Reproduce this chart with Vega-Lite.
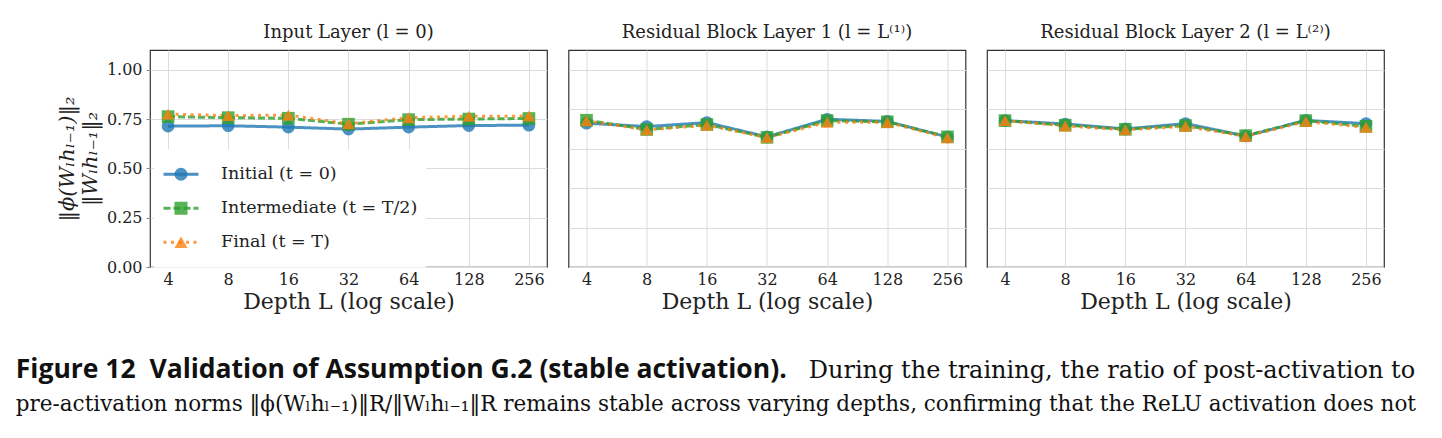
{
  "$schema": "https://vega.github.io/schema/vega-lite/v6.json",
  "padding": {"left": 15, "top": 23, "right": 0, "bottom": 0},
  "background": "white",
  "config": {
    "view": {"stroke": "#333333", "strokeWidth": 1.2},
    "font": "DejaVu Serif",
    "axis": {"gridColor": "#dcdcdc", "gridWidth": 1, "labelColor": "#222222", "titleColor": "#222222", "domain": false}
  },
  "data": {"values": [
    {"panel": "input", "series": "Initial (t = 0)", "order": 1, "depth": 4, "value": 0.714},
    {"panel": "input", "series": "Initial (t = 0)", "order": 1, "depth": 8, "value": 0.716},
    {"panel": "input", "series": "Initial (t = 0)", "order": 1, "depth": 16, "value": 0.709},
    {"panel": "input", "series": "Initial (t = 0)", "order": 1, "depth": 32, "value": 0.699},
    {"panel": "input", "series": "Initial (t = 0)", "order": 1, "depth": 64, "value": 0.709},
    {"panel": "input", "series": "Initial (t = 0)", "order": 1, "depth": 128, "value": 0.717},
    {"panel": "input", "series": "Initial (t = 0)", "order": 1, "depth": 256, "value": 0.719},
    {"panel": "input", "series": "Intermediate (t = T/2)", "order": 2, "depth": 4, "value": 0.762},
    {"panel": "input", "series": "Intermediate (t = T/2)", "order": 2, "depth": 8, "value": 0.757},
    {"panel": "input", "series": "Intermediate (t = T/2)", "order": 2, "depth": 16, "value": 0.754},
    {"panel": "input", "series": "Intermediate (t = T/2)", "order": 2, "depth": 32, "value": 0.724},
    {"panel": "input", "series": "Intermediate (t = T/2)", "order": 2, "depth": 64, "value": 0.747},
    {"panel": "input", "series": "Intermediate (t = T/2)", "order": 2, "depth": 128, "value": 0.750},
    {"panel": "input", "series": "Intermediate (t = T/2)", "order": 2, "depth": 256, "value": 0.753},
    {"panel": "input", "series": "Final (t = T)", "order": 3, "depth": 4, "value": 0.775},
    {"panel": "input", "series": "Final (t = T)", "order": 3, "depth": 8, "value": 0.768},
    {"panel": "input", "series": "Final (t = T)", "order": 3, "depth": 16, "value": 0.770},
    {"panel": "input", "series": "Final (t = T)", "order": 3, "depth": 32, "value": 0.726},
    {"panel": "input", "series": "Final (t = T)", "order": 3, "depth": 64, "value": 0.757},
    {"panel": "input", "series": "Final (t = T)", "order": 3, "depth": 128, "value": 0.764},
    {"panel": "input", "series": "Final (t = T)", "order": 3, "depth": 256, "value": 0.765},
    {"panel": "res1", "series": "Initial (t = 0)", "order": 1, "depth": 4, "value": 0.729},
    {"panel": "res1", "series": "Initial (t = 0)", "order": 1, "depth": 8, "value": 0.712},
    {"panel": "res1", "series": "Initial (t = 0)", "order": 1, "depth": 16, "value": 0.732},
    {"panel": "res1", "series": "Initial (t = 0)", "order": 1, "depth": 32, "value": 0.660},
    {"panel": "res1", "series": "Initial (t = 0)", "order": 1, "depth": 64, "value": 0.749},
    {"panel": "res1", "series": "Initial (t = 0)", "order": 1, "depth": 128, "value": 0.738},
    {"panel": "res1", "series": "Initial (t = 0)", "order": 1, "depth": 256, "value": 0.659},
    {"panel": "res1", "series": "Intermediate (t = T/2)", "order": 2, "depth": 4, "value": 0.744},
    {"panel": "res1", "series": "Intermediate (t = T/2)", "order": 2, "depth": 8, "value": 0.697},
    {"panel": "res1", "series": "Intermediate (t = T/2)", "order": 2, "depth": 16, "value": 0.722},
    {"panel": "res1", "series": "Intermediate (t = T/2)", "order": 2, "depth": 32, "value": 0.657},
    {"panel": "res1", "series": "Intermediate (t = T/2)", "order": 2, "depth": 64, "value": 0.742},
    {"panel": "res1", "series": "Intermediate (t = T/2)", "order": 2, "depth": 128, "value": 0.736},
    {"panel": "res1", "series": "Intermediate (t = T/2)", "order": 2, "depth": 256, "value": 0.660},
    {"panel": "res1", "series": "Final (t = T)", "order": 3, "depth": 4, "value": 0.741},
    {"panel": "res1", "series": "Final (t = T)", "order": 3, "depth": 8, "value": 0.695},
    {"panel": "res1", "series": "Final (t = T)", "order": 3, "depth": 16, "value": 0.719},
    {"panel": "res1", "series": "Final (t = T)", "order": 3, "depth": 32, "value": 0.656},
    {"panel": "res1", "series": "Final (t = T)", "order": 3, "depth": 64, "value": 0.734},
    {"panel": "res1", "series": "Final (t = T)", "order": 3, "depth": 128, "value": 0.733},
    {"panel": "res1", "series": "Final (t = T)", "order": 3, "depth": 256, "value": 0.655},
    {"panel": "res2", "series": "Initial (t = 0)", "order": 1, "depth": 4, "value": 0.742},
    {"panel": "res2", "series": "Initial (t = 0)", "order": 1, "depth": 8, "value": 0.725},
    {"panel": "res2", "series": "Initial (t = 0)", "order": 1, "depth": 16, "value": 0.700},
    {"panel": "res2", "series": "Initial (t = 0)", "order": 1, "depth": 32, "value": 0.727},
    {"panel": "res2", "series": "Initial (t = 0)", "order": 1, "depth": 64, "value": 0.664},
    {"panel": "res2", "series": "Initial (t = 0)", "order": 1, "depth": 128, "value": 0.743},
    {"panel": "res2", "series": "Initial (t = 0)", "order": 1, "depth": 256, "value": 0.727},
    {"panel": "res2", "series": "Intermediate (t = T/2)", "order": 2, "depth": 4, "value": 0.742},
    {"panel": "res2", "series": "Intermediate (t = T/2)", "order": 2, "depth": 8, "value": 0.719},
    {"panel": "res2", "series": "Intermediate (t = T/2)", "order": 2, "depth": 16, "value": 0.698},
    {"panel": "res2", "series": "Intermediate (t = T/2)", "order": 2, "depth": 32, "value": 0.717},
    {"panel": "res2", "series": "Intermediate (t = T/2)", "order": 2, "depth": 64, "value": 0.666},
    {"panel": "res2", "series": "Intermediate (t = T/2)", "order": 2, "depth": 128, "value": 0.742},
    {"panel": "res2", "series": "Intermediate (t = T/2)", "order": 2, "depth": 256, "value": 0.713},
    {"panel": "res2", "series": "Final (t = T)", "order": 3, "depth": 4, "value": 0.742},
    {"panel": "res2", "series": "Final (t = T)", "order": 3, "depth": 8, "value": 0.715},
    {"panel": "res2", "series": "Final (t = T)", "order": 3, "depth": 16, "value": 0.695},
    {"panel": "res2", "series": "Final (t = T)", "order": 3, "depth": 32, "value": 0.713},
    {"panel": "res2", "series": "Final (t = T)", "order": 3, "depth": 64, "value": 0.662},
    {"panel": "res2", "series": "Final (t = T)", "order": 3, "depth": 128, "value": 0.737},
    {"panel": "res2", "series": "Final (t = T)", "order": 3, "depth": 256, "value": 0.708}
  ]},
  "title": {
    "text": "pre-activation norms ‖ϕ(Wₗhₗ₋₁)‖R/‖Wₗhₗ₋₁‖R remains stable across varying depths, confirming that the ReLU activation does not",
    "orient": "bottom", "anchor": "start", "frame": "bounds",
    "font": "DejaVu Serif", "fontSize": 21.5, "fontWeight": "normal", "color": "#111111", "offset": 11
  },
  "vconcat": [{
    "title": {
      "text": "During the training, the ratio of post-activation to",
      "orient": "bottom", "anchor": "start", "frame": "bounds",
      "font": "DejaVu Serif", "fontSize": 24, "fontWeight": "normal", "color": "#111111",
      "offset": 0, "dx": 793, "dy": -24
    },
    "vconcat": [{
      "title": {
        "text": "Figure 12\u00a0\u00a0Validation of Assumption G.2 (stable activation).",
        "orient": "bottom", "anchor": "start", "frame": "bounds",
        "font": "Open Sans", "fontSize": 26.5, "fontWeight": "bold", "color": "#111111",
        "offset": 44, "dx": -40
      },
      "spacing": 19.5,
      "resolve": {
        "scale": {"color": "independent", "strokeDash": "independent", "fill": "independent", "shape": "independent"},
        "legend": {"color": "independent", "strokeDash": "independent", "fill": "independent", "shape": "independent"}
      },
      "hconcat": [
        {
          "width": 397, "height": 217,
          "title": {"text": "Input Layer (l = 0)", "fontSize": 18, "fontWeight": "normal", "offset": 8, "color": "#222222"},
          "transform": [{"filter": "datum.panel === 'input'"}],
          "encoding": {
            "x": {"field": "depth", "type": "quantitative",
              "scale": {"type": "log", "base": 2, "domain": [3.249, 315.2], "nice": false},
              "axis": {"values": [4, 8, 16, 32, 64, 128, 256], "format": "d", "title": "Depth L (log scale)", "labelFontSize": 16, "titleFontSize": 22, "titleFontWeight": "normal", "ticks": false, "labelPadding": 4, "titlePadding": 4, "labelFlush": false}},
            "y": {"field": "value", "type": "quantitative",
              "scale": {"domain": [0, 1.1], "nice": false, "zero": false},
              "axis": {"values": [0, 0.25, 0.5, 0.75, 1], "format": ".2f", "title": ["‖ϕ(Wₗhₗ₋₁)‖₂", "‖Wₗhₗ₋₁‖₂"], "titleFontSize": 21, "titleLineHeight": 23, "titleFontWeight": "normal", "titleFontStyle": "italic", "labelFontSize": 16, "tickSize": 4, "tickColor": "#888888", "labelPadding": 4, "titlePadding": 6}}
          },
          "layer": [
            {
              "mark": {"type": "line", "strokeWidth": 3, "opacity": 0.8, "strokeCap": "butt"},
              "encoding": {
                "color": {"field": "series", "type": "nominal",
                  "scale": {"domain": ["Initial (t = 0)", "Intermediate (t = T/2)", "Final (t = T)"], "range": ["#1f77b4", "#2ca02c", "#ff7f0e"]},
                  "legend": {"orient": "none", "legendX": 4, "legendY": 99.5, "title": null, "symbolType": "stroke", "symbolSize": 1225, "symbolStrokeWidth": 3, "symbolOpacity": 0.8, "labelFontSize": 17.5, "labelFont": "DejaVu Serif", "labelColor": "#222222", "labelOffset": 21, "labelLimit": 400, "clipHeight": 33.5, "rowPadding": 0, "padding": 8, "fillColor": "white"}},
                "strokeDash": {"field": "series", "type": "nominal",
                  "scale": {"domain": ["Initial (t = 0)", "Intermediate (t = T/2)", "Final (t = T)"], "range": [[1, 0], [7, 3], [3, 4.5]]},
                  "legend": {"orient": "none", "legendX": 4, "legendY": 99.5, "title": null, "symbolType": "stroke", "symbolSize": 1225, "symbolStrokeWidth": 3, "symbolOpacity": 0.8, "labelFontSize": 17.5, "labelFont": "DejaVu Serif", "labelColor": "#222222", "labelOffset": 21, "labelLimit": 400, "clipHeight": 33.5, "rowPadding": 0, "padding": 8, "fillColor": "white"}}
              }
            },
            {
              "mark": {"type": "point", "filled": true, "opacity": 0.8, "size": 160, "strokeWidth": 0},
              "encoding": {
                "fill": {"field": "series", "type": "nominal", "sort": {"field": "order", "op": "min"},
                  "scale": {"range": ["#1f77b4", "#2ca02c", "#ff7f0e"]},
                  "legend": {"orient": "none", "legendX": 15, "legendY": 99.5, "title": null, "symbolSize": 169, "symbolStrokeWidth": 0, "symbolOpacity": 0.8, "labelExpr": "''", "labelFontSize": 16, "clipHeight": 33.5, "rowPadding": 0, "padding": 8}},
                "shape": {"field": "series", "type": "nominal", "sort": {"field": "order", "op": "min"},
                  "scale": {"range": ["circle", "square", "triangle-up"]},
                  "legend": {"orient": "none", "legendX": 15, "legendY": 99.5, "title": null, "symbolSize": 169, "symbolStrokeWidth": 0, "symbolOpacity": 0.8, "labelExpr": "''", "labelFontSize": 16, "clipHeight": 33.5, "rowPadding": 0, "padding": 8}}
              }
            }
          ]
        },
        {
          "width": 397, "height": 217,
          "title": {"text": "Residual Block Layer 1 (l = L⁽¹⁾)", "fontSize": 18, "fontWeight": "normal", "offset": 8, "color": "#222222"},
          "transform": [{"filter": "datum.panel === 'res1'"}],
          "encoding": {
            "x": {"field": "depth", "type": "quantitative",
              "scale": {"type": "log", "base": 2, "domain": [3.249, 315.2], "nice": false},
              "axis": {"values": [4, 8, 16, 32, 64, 128, 256], "format": "d", "title": "Depth L (log scale)", "labelFontSize": 16, "titleFontSize": 22, "titleFontWeight": "normal", "ticks": false, "labelPadding": 4, "titlePadding": 4, "labelFlush": false}},
            "y": {"field": "value", "type": "quantitative",
              "scale": {"domain": [0, 1.1], "nice": false, "zero": false},
              "axis": {"values": [0, 0.2, 0.4, 0.6, 0.8, 1.0], "labels": false, "ticks": false, "title": null}}
          },
          "layer": [
            {
              "mark": {"type": "line", "strokeWidth": 3, "opacity": 0.8, "strokeCap": "butt"},
              "encoding": {
                "color": {"field": "series", "type": "nominal",
                  "scale": {"domain": ["Initial (t = 0)", "Intermediate (t = T/2)", "Final (t = T)"], "range": ["#1f77b4", "#2ca02c", "#ff7f0e"]}, "legend": null},
                "strokeDash": {"field": "series", "type": "nominal",
                  "scale": {"domain": ["Initial (t = 0)", "Intermediate (t = T/2)", "Final (t = T)"], "range": [[1, 0], [7, 3], [3, 4.5]]}, "legend": null}
              }
            },
            {
              "mark": {"type": "point", "filled": true, "opacity": 0.8, "size": 160, "strokeWidth": 0},
              "encoding": {
                "fill": {"field": "series", "type": "nominal", "sort": {"field": "order", "op": "min"}, "scale": {"range": ["#1f77b4", "#2ca02c", "#ff7f0e"]}, "legend": null},
                "shape": {"field": "series", "type": "nominal", "sort": {"field": "order", "op": "min"}, "scale": {"range": ["circle", "square", "triangle-up"]}, "legend": null}
              }
            }
          ]
        },
        {
          "width": 397, "height": 217,
          "title": {"text": "Residual Block Layer 2 (l = L⁽²⁾)", "fontSize": 18, "fontWeight": "normal", "offset": 8, "color": "#222222"},
          "transform": [{"filter": "datum.panel === 'res2'"}],
          "encoding": {
            "x": {"field": "depth", "type": "quantitative",
              "scale": {"type": "log", "base": 2, "domain": [3.249, 315.2], "nice": false},
              "axis": {"values": [4, 8, 16, 32, 64, 128, 256], "format": "d", "title": "Depth L (log scale)", "labelFontSize": 16, "titleFontSize": 22, "titleFontWeight": "normal", "ticks": false, "labelPadding": 4, "titlePadding": 4, "labelFlush": false}},
            "y": {"field": "value", "type": "quantitative",
              "scale": {"domain": [0, 1.1], "nice": false, "zero": false},
              "axis": {"values": [0, 0.2, 0.4, 0.6, 0.8, 1.0], "labels": false, "ticks": false, "title": null}}
          },
          "layer": [
            {
              "mark": {"type": "line", "strokeWidth": 3, "opacity": 0.8, "strokeCap": "butt"},
              "encoding": {
                "color": {"field": "series", "type": "nominal",
                  "scale": {"domain": ["Initial (t = 0)", "Intermediate (t = T/2)", "Final (t = T)"], "range": ["#1f77b4", "#2ca02c", "#ff7f0e"]}, "legend": null},
                "strokeDash": {"field": "series", "type": "nominal",
                  "scale": {"domain": ["Initial (t = 0)", "Intermediate (t = T/2)", "Final (t = T)"], "range": [[1, 0], [7, 3], [3, 4.5]]}, "legend": null}
              }
            },
            {
              "mark": {"type": "point", "filled": true, "opacity": 0.8, "size": 160, "strokeWidth": 0},
              "encoding": {
                "fill": {"field": "series", "type": "nominal", "sort": {"field": "order", "op": "min"}, "scale": {"range": ["#1f77b4", "#2ca02c", "#ff7f0e"]}, "legend": null},
                "shape": {"field": "series", "type": "nominal", "sort": {"field": "order", "op": "min"}, "scale": {"range": ["circle", "square", "triangle-up"]}, "legend": null}
              }
            }
          ]
        }
      ]
    }]
  }]
}
